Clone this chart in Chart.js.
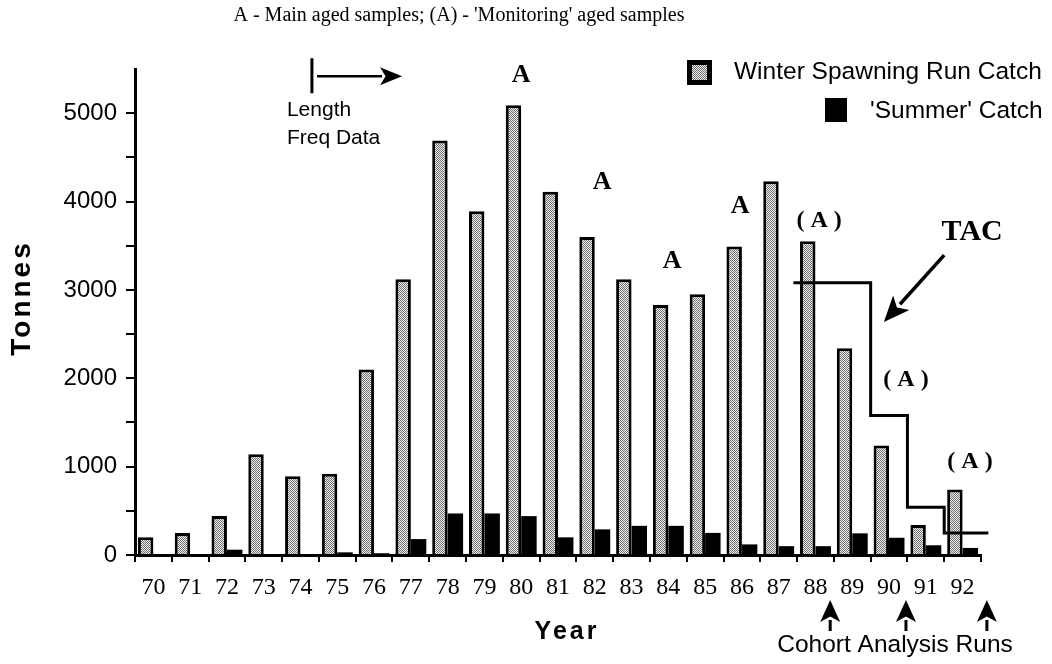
<html>
<head>
  <title>Winter and summer catch</title>
  <script src="https://cdn.jsdelivr.net/npm/chart.js@4.4.1/dist/chart.umd.min.js"></script>
  <style>
    body { margin: 0; background: #fff; }
    #wrap { width: 1052px; height: 664px; }
  </style>
</head>
<body>
  <div id="wrap"><canvas id="catchChart" width="1052" height="664"></canvas></div>
  <script>
    // data (tonnes)
    const years = ['70', '71', '72', '73', '74', '75', '76', '77', '78', '79', '80', '81',
      '82', '83', '84', '85', '86', '87', '88', '89', '90', '91', '92'];
    const winterCatch = [200, 250, 440, 1140, 890, 920, 2100, 3120, 4690, 3890, 5090, 4110,
      3600, 3120, 2830, 2950, 3490, 4230, 3550, 2340, 1240, 340, 740];
    const summerCatch = [0, 0, 60, 0, 0, 30, 20, 180, 470, 470, 440, 200,
      290, 330, 330, 250, 120, 100, 100, 245, 195, 110, 80];
    // TAC step line, x in category index units (88 = 18)
    const tacX = [17.4, 19.5, 20.5, 21.5, 22.7];
    const tacY = [3080, 1580, 540, 250, 250];
    const yTicks = [0, 1000, 2000, 3000, 4000, 5000];

    // annotations: text, x (index), y (tonnes)
    const mainAged = [['A', 10.0, 5430], ['A', 12.2, 4220], ['A', 14.1, 3326], ['A', 15.95, 3948]];
    const monitorAged = [['( A )', 18.1, 3778], ['( A )', 20.46, 1980], ['( A )', 22.2, 1052]];
    const cohortRuns = [18.4, 20.46, 22.66];

    const sans = '"Liberation Sans", Arial, sans-serif';
    const serif = '"Liberation Serif", "Times New Roman", serif';

    function makeStipple() {
      const c = document.createElement('canvas');
      c.width = 2; c.height = 2;
      const g = c.getContext('2d');
      g.fillStyle = '#f0f0f0';
      g.fillRect(0, 0, 2, 2);
      g.fillStyle = '#707070';
      g.fillRect(0, 0, 1, 1);
      g.fillRect(1, 1, 1, 1);
      return g.createPattern(c, 'repeat');
    }

    function arrow(ctx, x1, y1, x2, y2, head, half) {
      const a = Math.atan2(y2 - y1, x2 - x1);
      const bx = x2 - head * Math.cos(a), by = y2 - head * Math.sin(a);
      ctx.beginPath();
      ctx.moveTo(x1, y1);
      ctx.lineTo(bx + 2 * Math.cos(a), by + 2 * Math.sin(a));
      ctx.stroke();
      ctx.beginPath();
      ctx.moveTo(x2, y2);
      ctx.lineTo(bx - half * Math.sin(a), by + half * Math.cos(a));
      ctx.lineTo(x2 - head * 0.75 * Math.cos(a), y2 - head * 0.75 * Math.sin(a));
      ctx.lineTo(bx + half * Math.sin(a), by - half * Math.cos(a));
      ctx.closePath();
      ctx.fill();
    }

    const stipple = makeStipple();

    const notes = {
      id: 'notes',
      afterDraw(chart) {
        const ctx = chart.ctx;
        const xs = chart.scales.x, ys = chart.scales.y;
        const area = chart.chartArea;
        const px = v => xs.getPixelForValue(v);
        const py = v => ys.getPixelForValue(v);
        ctx.save();
        ctx.fillStyle = '#000';
        ctx.strokeStyle = '#000';

        // header
        ctx.font = '20px ' + serif;
        ctx.textAlign = 'center';
        ctx.textBaseline = 'middle';
        ctx.fillText("A - Main aged samples; (A) - 'Monitoring' aged samples", 459, 16);

        // aged sample marks
        ctx.font = 'bold 26px ' + serif;
        mainAged.forEach(m => ctx.fillText(m[0], px(m[1]), py(m[2])));
        ctx.font = 'bold 24px ' + serif;
        monitorAged.forEach(m => ctx.fillText(m[0], px(m[1]), py(m[2])));

        // TAC label + arrow
        ctx.font = 'bold 30px ' + serif;
        ctx.fillText('TAC', px(22.26), py(3654));
        ctx.lineWidth = 3.5;
        arrow(ctx, px(21.5), py(3394), px(19.86), py(2636), 26, 11);

        // length freq marker
        ctx.lineWidth = 3;
        ctx.beginPath();
        ctx.moveTo(px(4.31), py(5622));
        ctx.lineTo(px(4.31), py(5226));
        ctx.stroke();
        ctx.lineWidth = 2.5;
        arrow(ctx, px(4.45), py(5418), px(6.76), py(5418), 22, 9);
        ctx.font = '21px ' + sans;
        ctx.textAlign = 'left';
        ctx.fillText('Length', px(3.63), py(5034));
        ctx.fillText('Freq Data', px(3.63), py(4717));

        // legend
        ctx.fillStyle = '#000';
        ctx.fillRect(687, 60, 25, 25);
        ctx.fillStyle = stipple;
        ctx.fillRect(692, 65, 15, 15);
        ctx.fillStyle = '#000';
        ctx.fillRect(825, 98, 22, 24);
        ctx.font = '24.5px ' + sans;
        ctx.fillText(chart.data.datasets[0].label, 734, 72);
        ctx.fillText(chart.data.datasets[1].label, 870, 111);

        // cohort analysis runs
        ctx.lineWidth = 3;
        cohortRuns.forEach(v => arrow(ctx, px(v), area.bottom + 76, px(v), area.bottom + 45, 22, 10));
        ctx.textAlign = 'center';
        ctx.font = '24.5px ' + sans;
        ctx.fillText('Cohort Analysis Runs', 895, area.bottom + 90);

        // axis titles
        ctx.font = 'bold 25px ' + sans;
        ctx.letterSpacing = '3px';
        ctx.fillText('Year', 567, 632);
        ctx.translate(22, 298);
        ctx.rotate(-Math.PI / 2);
        ctx.font = 'bold 28px ' + sans;
        ctx.fillText('Tonnes', 0, 0);
        ctx.restore();
      }
    };

    new Chart(document.getElementById('catchChart'), {
      type: 'bar',
      data: {
        labels: years,
        datasets: [
          {
            label: 'Winter Spawning Run Catch',
            data: winterCatch,
            backgroundColor: stipple,
            borderColor: '#000',
            borderWidth: 3,
            borderSkipped: 'bottom',
            categoryPercentage: 0.84,
            barPercentage: 1.0
          },
          {
            label: "'Summer' Catch",
            data: summerCatch,
            backgroundColor: '#000',
            borderWidth: 0,
            categoryPercentage: 0.84,
            barPercentage: 1.0
          },
          {
            type: 'line',
            label: 'TAC',
            parsing: false,
            data: tacX.map((x, i) => ({ x: x, y: tacY[i] })),
            stepped: true,
            borderColor: '#000',
            borderWidth: 3,
            pointRadius: 0,
            fill: false,
            clip: false,
            order: -1
          }
        ]
      },
      options: {
        responsive: false,
        animation: false,
        events: [],
        layout: { padding: { left: 0, right: 71, top: 69, bottom: 0 } },
        plugins: {
          legend: { display: false },
          tooltip: { enabled: false },
          title: { display: false }
        },
        scales: {
          x: {
            type: 'category',
            offset: true,
            afterFit: s => { s.height = 109; },
            grid: { offset: true, drawOnChartArea: false, color: '#000', lineWidth: 2, tickLength: 7 },
            border: { color: '#000', width: 3 },
            ticks: { color: '#000', padding: 11, font: { family: serif, size: 24 }, maxRotation: 0, autoSkip: false }
          },
          y: {
            min: 0,
            max: 5500,
            afterFit: s => { s.width = 135; },
            afterBuildTicks: s => {
              const t = [];
              for (let v = 0; v < 5500; v += 500) t.push({ value: v });
              s.ticks = t;
            },
            grid: { drawOnChartArea: false, color: '#000', lineWidth: 2, tickLength: 9 },
            border: { color: '#000', width: 3 },
            ticks: {
              color: '#000',
              padding: 9,
              font: { family: sans, size: 24 },
              callback: v => yTicks.includes(v) ? String(v) : ''
            }
          }
        }
      },
      plugins: [notes]
    });
  </script>
</body>
</html>
